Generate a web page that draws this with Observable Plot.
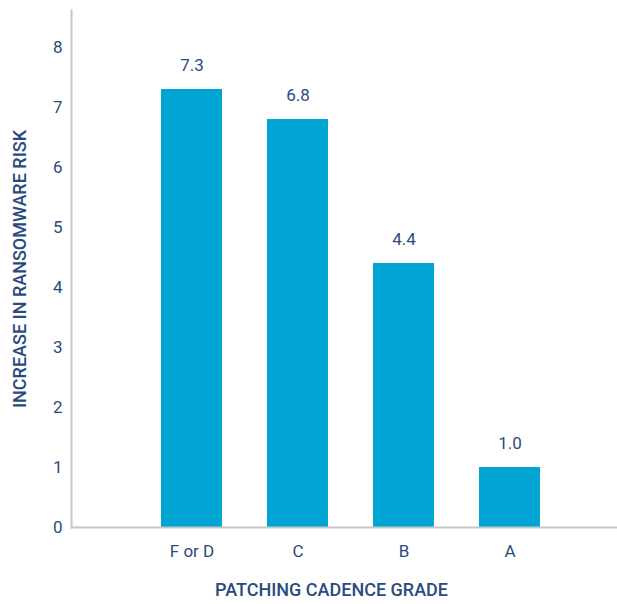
<!DOCTYPE html>
<html>
<head>
<meta charset="utf-8">
<script src="https://cdn.jsdelivr.net/npm/d3@7"></script>
<script src="https://cdn.jsdelivr.net/npm/@observablehq/plot@0.6"></script>
<style>
  html, body { margin: 0; padding: 0; background: #fff; }
  svg { display: block; }
</style>
</head>
<body>
<div id="chart"></div>
<script>
const grades = ["F or D", "C", "B", "A"];
const risk = [7.3, 6.8, 4.4, 1.0];
const yTicks = [0, 1, 2, 3, 4, 5, 6, 7, 8];
const xTitle = "PATCHING CADENCE GRADE";
const yTitle = "INCREASE IN RANSOMWARE RISK";

const data = grades.map((g, i) => ({grade: g, value: risk[i]}));
const textColor = "#2a4b7c";
const barColor = "#00a5d4";
const axisColor = "#c6c6c6";

const chart = Plot.plot({
  width: 617,
  height: 604,
  marginLeft: 71,
  marginRight: 0,
  marginTop: 10,
  marginBottom: 77,
  style: {fontFamily: "Roboto, sans-serif", fontSize: "16px", color: textColor, background: "#fff"},
  x: {domain: grades, paddingInner: 0.428, paddingOuter: 0.7735, align: 0.539, label: null},
  y: {domain: [0, 8.617], label: null},
  marks: [
    Plot.barY(data, {x: "grade", y: "value", fill: barColor}),
    Plot.ruleY([0], {stroke: axisColor, strokeWidth: 2}),
    Plot.frame({anchor: "left", stroke: axisColor, strokeWidth: 2}),
    Plot.axisY({ticks: yTicks, tickSize: 0, tickPadding: 9, tickFormat: d => String(d), fill: textColor, fontSize: 17, label: null}),
    Plot.axisX({tickSize: 0, tickPadding: 17, fill: textColor, fontSize: 17, label: null}),
    Plot.text(data, {x: "grade", y: "value", text: d => d.value.toFixed(1), dy: -24, fill: textColor, fontSize: 17}),
    Plot.text([xTitle], {frameAnchor: "bottom", textAnchor: "middle", dx: -13, dy: 68, fill: textColor, fontSize: 18, fontWeight: 500}),
    Plot.text([yTitle], {frameAnchor: "left", textAnchor: "middle", rotate: -90, dx: -51, fill: textColor, fontSize: 18, fontWeight: 500})
  ]
});
document.getElementById("chart").appendChild(chart);
</script>
</body>
</html>
